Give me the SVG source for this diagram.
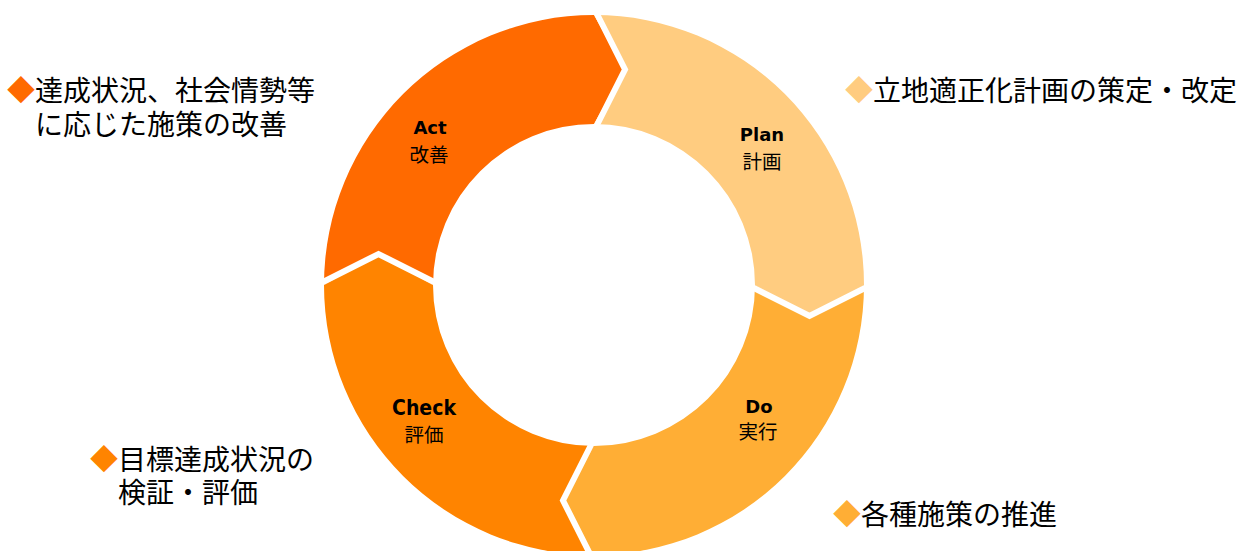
<svg xmlns="http://www.w3.org/2000/svg" width="1250" height="551" viewBox="0 0 1250 551">
<style>
.lbl{font-family:"DejaVu Sans","Liberation Sans",sans-serif;font-weight:bold;font-size:18px;fill:#000;text-anchor:middle}
.lblc{font-family:"DejaVu Sans Condensed","DejaVu Sans",sans-serif;font-weight:bold;font-size:21px;fill:#000;text-anchor:middle}
.jp{font-family:"Noto Sans CJK JP","Noto Sans CJK SC",sans-serif;font-size:19.5px;fill:#000;text-anchor:middle}
.note{font-family:"Liberation Sans","Noto Sans CJK JP","Noto Sans CJK SC",sans-serif;font-size:28px;fill:#000}
.dia{font-family:"Noto Sans CJK JP","Noto Sans CJK SC",sans-serif}
.gap{fill:none;stroke:#fff;stroke-width:6;stroke-linejoin:miter}
</style>
<rect width="1250" height="551" fill="#fff"/>
<g id="act">
<path d="M324,285 A270,270 0 0 1 594,15 L625,69.5 L594,124 A161,161 0 0 0 433,285 L378.5,254 Z" fill="#FF6A00"/>
<text class="lbl" x="430" y="134">Act</text>
<text class="jp" x="429" y="162">改善</text>
</g>
<g id="plan">
<path d="M594,15 A270,270 0 0 1 864,285 L809.5,316 L755,285 A161,161 0 0 0 594,124 L625,69.5 Z" fill="#FFCC80"/>
<text class="lbl" x="762" y="141">Plan</text>
<text class="jp" x="762" y="169">計画</text>
</g>
<g id="do">
<path d="M864,285 A270,270 0 0 1 594,555 L563,500.5 L594,446 A161,161 0 0 0 755,285 L809.5,316 Z" fill="#FFAE35"/>
<text class="lbl" x="759" y="413">Do</text>
<text class="jp" x="758" y="439">実行</text>
</g>
<g id="check">
<path d="M594,555 A270,270 0 0 1 324,285 L378.5,254 L433,285 A161,161 0 0 0 594,446 L563,500.5 Z" fill="#FF8400"/>
<text class="lblc" x="424" y="415">Check</text>
<text class="jp" x="424" y="442">評価</text>
</g>
<g id="connectors">
<polyline class="gap" points="594,8 625,69.5 594,131"/>
<polyline class="gap" points="871,285 809.5,316 748,285"/>
<polyline class="gap" points="594,562 563,500.5 594,439"/>
<polyline class="gap" points="317,285 378.5,254 440,285"/>
</g>
<g id="note-act">
<text class="note"><tspan x="7" y="101"><tspan class="dia" fill="#FF6A00">◆</tspan>達成状況、社会情勢等</tspan><tspan x="35" y="135">に応じた施策の改善</tspan></text>
</g>
<g id="note-plan">
<text class="note" x="845" y="101"><tspan class="dia" fill="#FFCC80">◆</tspan>立地適正化計画の策定・改定</text>
</g>
<g id="note-check">
<text class="note"><tspan x="90" y="470"><tspan class="dia" fill="#FF8400">◆</tspan>目標達成状況の</tspan><tspan x="118" y="503">検証・評価</tspan></text>
</g>
<g id="note-do">
<text class="note" x="833" y="525"><tspan class="dia" fill="#FFAE35">◆</tspan>各種施策の推進</text>
</g>
</svg>
